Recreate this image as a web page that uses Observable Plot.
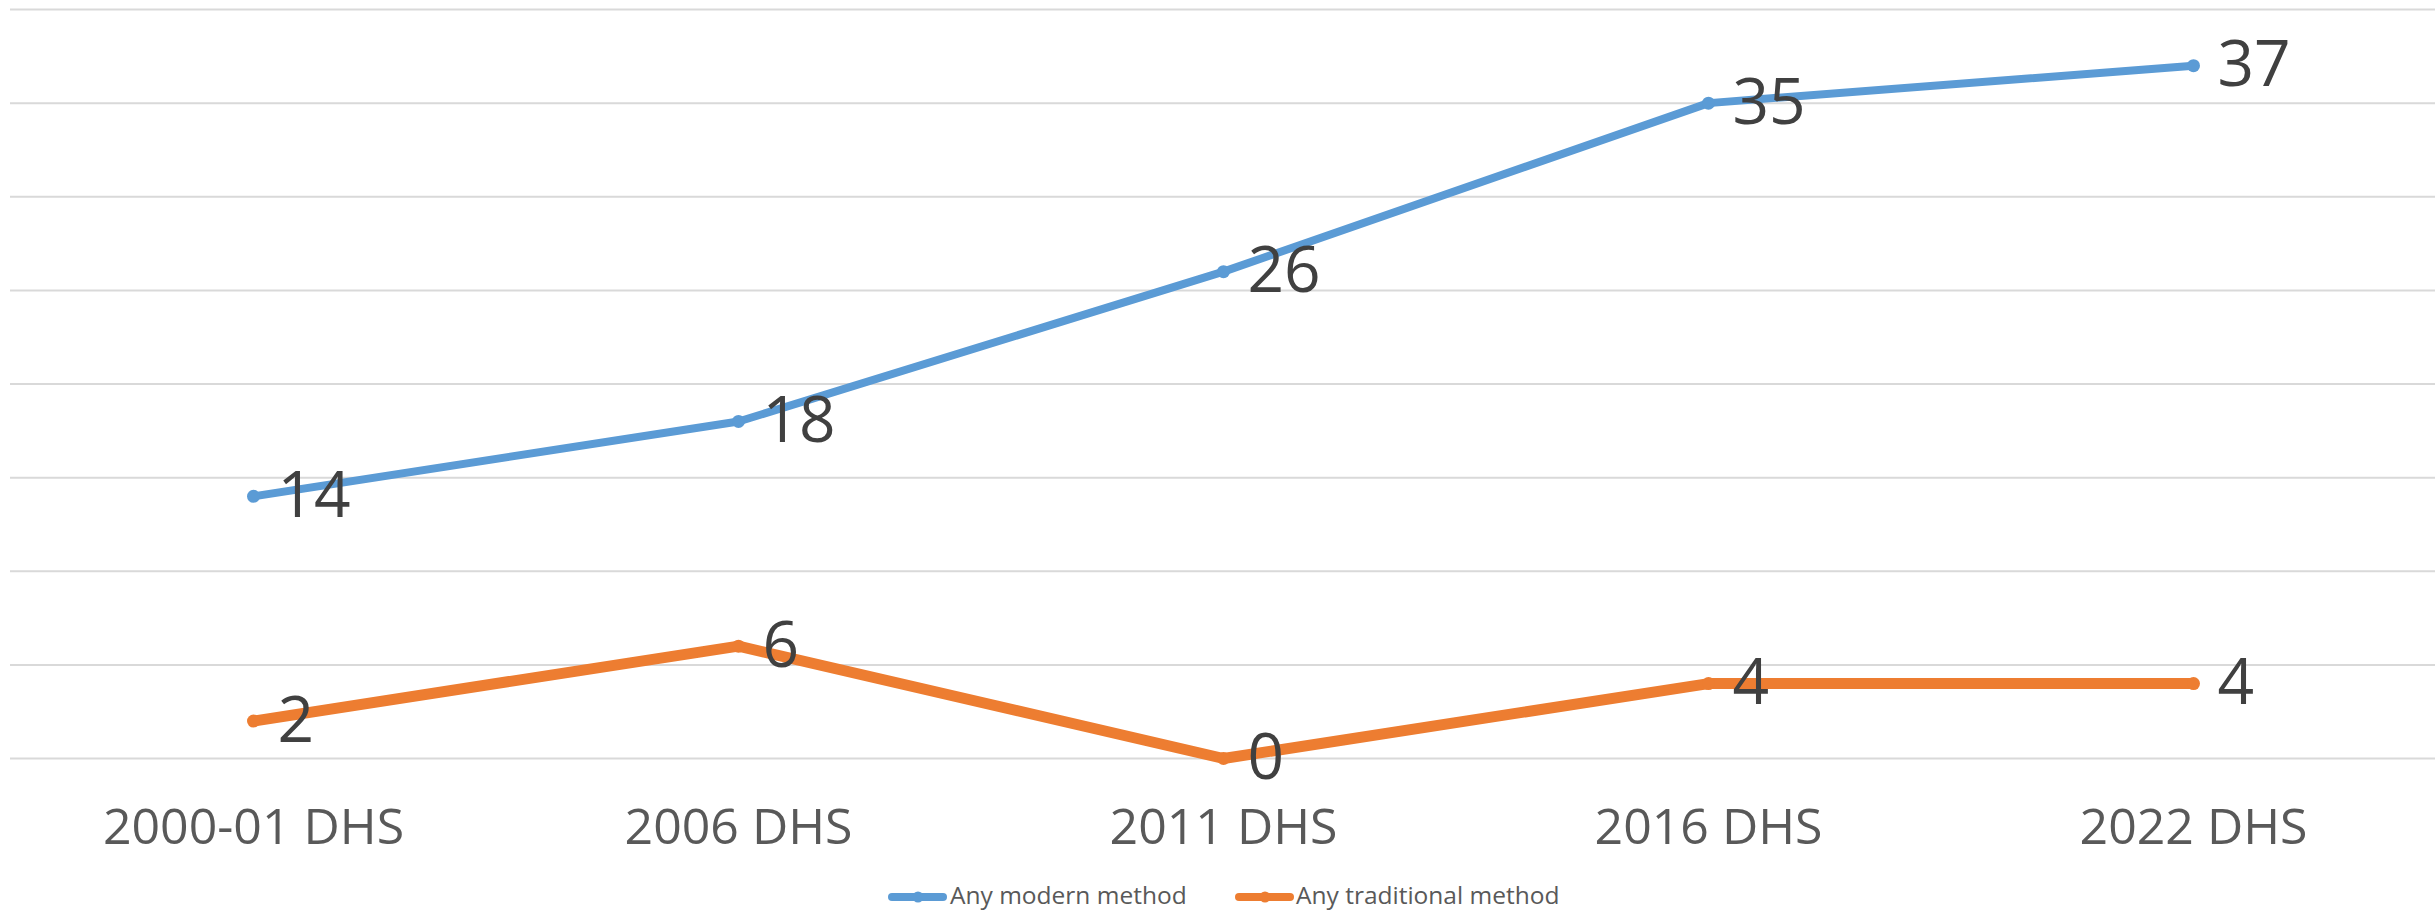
<!DOCTYPE html>
<html>
<head>
<meta charset="utf-8">
<script src="https://cdn.jsdelivr.net/npm/d3@7"></script>
<script src="https://cdn.jsdelivr.net/npm/@observablehq/plot@0.6"></script>
<style>
  html, body { margin: 0; padding: 0; background: #fff; overflow: hidden; }
  body { width: 2436px; height: 911px; position: relative; font-family: "Open Sans", sans-serif; }
  #legend .label { position: absolute; font-size: 24.5px; line-height: 24.5px; color: #595959; white-space: nowrap; }
</style>
</head>
<body>
<div id="chart"></div>
<div id="legend"></div>
<script>
const categories = ["2000-01 DHS", "2006 DHS", "2011 DHS", "2016 DHS", "2022 DHS"];
const seriesNames = ["Any modern method", "Any traditional method"];
const modern = [14, 18, 26, 35, 37];
const traditional = [2, 6, 0, 4, 4];
const colors = ["#5B9BD5", "#ED7D31"];
const yTicks = [0, 5, 10, 15, 20, 25, 30, 35, 40];

const rows = [];
[modern, traditional].forEach((vals, s) => {
  vals.forEach((v, i) => rows.push({cat: categories[i], value: v, series: seriesNames[s]}));
});
const modernRows = rows.filter(d => d.series === seriesNames[0]);
const tradRows = rows.filter(d => d.series === seriesNames[1]);

const chart = Plot.plot({
  width: 2436,
  height: 875,
  marginLeft: 10,
  marginRight: 1,
  marginTop: 9,
  marginBottom: 117,
  style: {fontFamily: "Open Sans, sans-serif", background: "#fff"},
  x: {type: "point", domain: categories, padding: 0.5, label: null},
  y: {domain: [0, 40], label: null, axis: null},
  marks: [
    Plot.gridY(yTicks, {stroke: "#d9d9d9", strokeOpacity: 1, strokeWidth: 2}),
    Plot.axisX({tickSize: 0, tickPadding: 50, fontSize: 50, fill: "#595959", label: null}),
    Plot.line(modernRows, {x: "cat", y: "value", stroke: colors[0], strokeWidth: 8, strokeLinejoin: "round"}),
    Plot.line(tradRows, {x: "cat", y: "value", stroke: colors[1], strokeWidth: 11, strokeLinejoin: "round"}),
    Plot.dot(modernRows, {x: "cat", y: "value", fill: colors[0], r: 6.5}),
    Plot.dot(tradRows, {x: "cat", y: "value", fill: colors[1], r: 6.5}),
    Plot.text(rows, {x: "cat", y: "value", text: d => String(d.value), dx: 24, textAnchor: "start", fontSize: 64, fill: "#404040"})
  ]
});
document.getElementById("chart").appendChild(chart);

// legend below the chart
const legend = document.getElementById("legend");
const legendPos = [{sw: 888, tx: 950}, {sw: 1235, tx: 1296}];
seriesNames.forEach((name, i) => {
  const sw = document.createElementNS("http://www.w3.org/2000/svg", "svg");
  sw.setAttribute("width", 60);
  sw.setAttribute("height", 20);
  sw.style.position = "absolute";
  sw.style.left = legendPos[i].sw + "px";
  sw.style.top = "887px";
  sw.innerHTML = `<line x1="4" y1="10" x2="55" y2="10" stroke="${colors[i]}" stroke-width="8" stroke-linecap="round"/><circle cx="30" cy="10" r="5.5" fill="${colors[i]}"/>`;
  legend.appendChild(sw);
  const lab = document.createElement("div");
  lab.className = "label";
  lab.style.left = legendPos[i].tx + "px";
  lab.style.top = "883px";
  lab.textContent = name;
  legend.appendChild(lab);
});
</script>
</body>
</html>
